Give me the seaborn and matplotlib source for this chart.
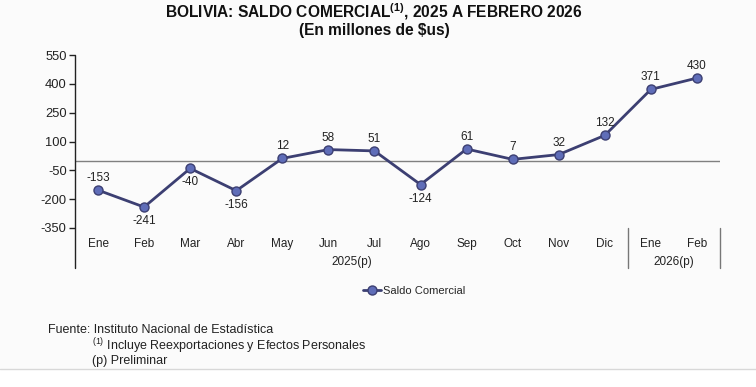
import numpy as np
import pandas as pd
import seaborn as sns
import matplotlib.pyplot as plt
from matplotlib.lines import Line2D
from matplotlib.patches import Rectangle

meses = ["Ene", "Feb", "Mar", "Abr", "May", "Jun", "Jul", "Ago", "Sep", "Oct", "Nov", "Dic", "Ene", "Feb"]
saldo = [-153, -241, -40, -156, 12, 58, 51, -124, 61, 7, 32, 132, 371, 430]
etiqueta_abajo = [False, True, True, True, False, False, False, True, False, False, False, False, False, False]
grupos = ["2025(p)", "2026(p)"]
grupo_inicio = [0, 12]
grupo_fin = [11, 13]
y_ticks = [-350, -200, -50, 100, 250, 400, 550]

sns.set_theme(style="white")
plt.rcParams['font.family'] = ['Liberation Sans', 'DejaVu Sans']
plt.rcParams['mathtext.fontset'] = 'custom'
plt.rcParams['mathtext.rm'] = 'Liberation Sans'
plt.rcParams['mathtext.bf'] = 'Liberation Sans:bold'

df = pd.DataFrame({"pos": np.arange(len(saldo)), "Saldo Comercial": saldo})

linea = "#3c3f72"
relleno = "#5f6db8"
texto = "#222222"

fig = plt.figure(figsize=(7.56, 3.87), dpi=100, facecolor="white")
# fondo levemente gris como la captura
fig.patches.append(Rectangle((0, 18 / 387), 1, 1 - 18 / 387, transform=fig.transFigure,
                             facecolor="#fbfbfb", edgecolor="none", zorder=-10))
fig.lines.append(Line2D([0, 1], [18 / 387, 18 / 387], transform=fig.transFigure, color="#d8d8d8", lw=1))

ax = fig.add_axes([75 / 756, 1 - 228 / 387, 645 / 756, 173 / 387])
ax.set_facecolor("none")

sns.lineplot(data=df, x="pos", y="Saldo Comercial", ax=ax, color=linea, linewidth=2,
             marker="o", markersize=6.5, markerfacecolor=relleno, markeredgecolor=linea,
             markeredgewidth=1, label="Saldo Comercial")

ax.set_xlim(-0.5, len(saldo) - 0.5)
ax.set_ylim(-350, 550)
ax.set_yticks(y_ticks)
ax.set_yticklabels([str(v) for v in y_ticks], fontsize=9.3, color=texto)
ax.tick_params(axis="y", left=True, length=4, width=1, color=texto, pad=2)
ax.set_xticks(np.arange(len(meses)))
ax.set_xticklabels(meses, fontsize=8.5, color=texto)
ax.tick_params(axis="x", bottom=False, length=0, pad=7)
ax.set_xlabel("")
ax.set_ylabel("")

for s in ["top", "right", "bottom", "left"]:
    ax.spines[s].set_visible(False)

# eje izquierdo extendido hasta debajo de los grupos
ext = -40 / 173
ax.plot([0, 0], [ext, 1], transform=ax.transAxes, color=texto, lw=1, clip_on=False)
ax.axhline(0, color="#808080", lw=1, zorder=1)

# separadores y nombres de grupo
trans = ax.get_xaxis_transform()
for fin in grupo_fin:
    ax.plot([fin + 0.5, fin + 0.5], [0, ext], transform=trans, color="#777777", lw=1, clip_on=False)
for g, a, b in zip(grupos, grupo_inicio, grupo_fin):
    ax.text((a + b) / 2, -34 / 173, g, transform=trans, ha="center", va="center", fontsize=8.5, color=texto)

# etiquetas de datos
for i, v in enumerate(saldo):
    dy = -14 if etiqueta_abajo[i] else 12
    ax.annotate(str(v), (i, v), xytext=(0, dy), textcoords="offset pixels",
                ha="center", va="center", fontsize=8.5, color=texto)

ax.legend(loc="center", bbox_to_anchor=(414 / 756, 1 - 291 / 387), bbox_transform=fig.transFigure,
          frameon=False, fontsize=8, handlelength=1.6, handletextpad=0.2)

fig.text(374 / 756, 1 - 12 / 387, r"BOLIVIA: SALDO COMERCIAL$^{\mathbf{(1)}}$, 2025 A FEBRERO 2026",
         ha="center", va="center", fontsize=11.2, fontweight="bold", color="#111111")
fig.text(374 / 756, 1 - 30 / 387, "(En millones de $us)", ha="center", va="center",
         fontsize=11.2, fontweight="bold", color="#111111")

fig.text(48 / 756, 1 - 330 / 387, "Fuente: Instituto Nacional de Estadística", ha="left", va="center",
         fontsize=9, color=texto)
fig.text(92 / 756, 1 - 346 / 387, r"$^{(1)}$ Incluye Reexportaciones y Efectos Personales", ha="left",
         va="center", fontsize=9, color=texto)
fig.text(92 / 756, 1 - 361 / 387, "(p) Preliminar", ha="left", va="center", fontsize=9, color=texto)

fig.savefig("out.png", dpi=100)
